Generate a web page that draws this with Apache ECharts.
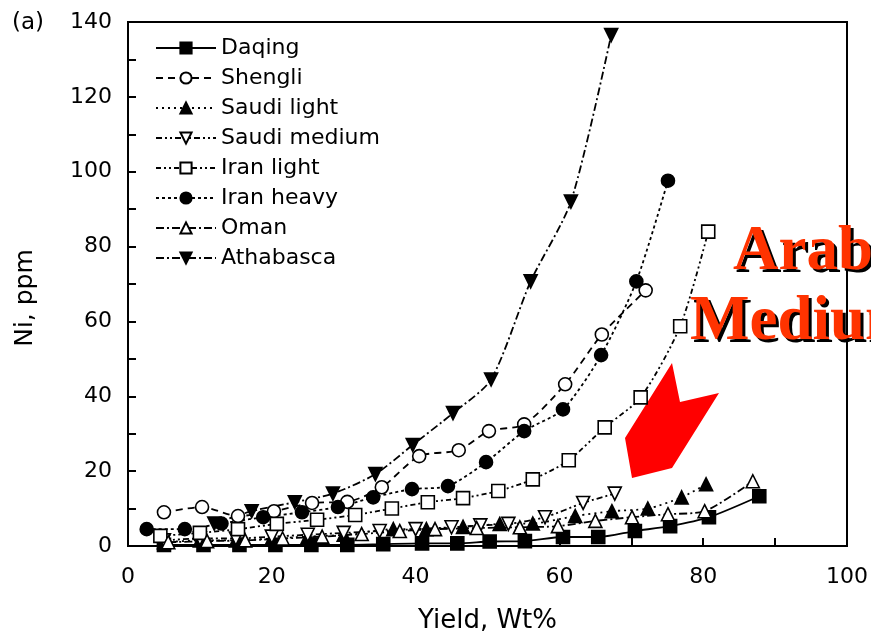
<!DOCTYPE html>
<html>
<head>
<meta charset="utf-8">
<script src="https://cdn.jsdelivr.net/npm/echarts@6/dist/echarts.min.js"></script>
<style>
html,body{margin:0;padding:0;background:#fff;}
#chart{width:871px;height:639px;}
</style>
</head>
<body>
<div id="chart"></div>
<script>
const seriesNames = ['Daqing','Shengli','Saudi light','Saudi medium','Iran light','Iran heavy','Oman','Athabasca'];

const daqing = [[5,0.3],[10.5,0.3],[15.5,0.3],[20.5,0.3],[25.5,0.3],[30.5,0.3],[35.5,0.5],[40.9,0.7],[45.8,0.7],[50.3,1.2],[55.2,1.3],[60.5,2.4],[65.4,2.4],[70.5,4],[75.4,5.3],[80.8,7.7],[87.8,13.3]];
const shengli = [[5,9],[10.3,10.4],[15.3,8],[20.3,9.3],[25.6,11.5],[30.5,11.8],[35.3,15.7],[40.5,24],[46,25.6],[50.2,30.7],[55.1,32.5],[60.8,43.2],[65.9,56.5],[72,68.3]];
const saudiLight = [[5,1],[10,1.5],[15,1.5],[20,2],[25,2.5],[30,3],[36.9,4.5],[41.5,4.5],[46.6,5.1],[51.7,5.9],[56.3,6],[62.2,8],[67.3,9.3],[72.3,10],[77,13],[80.4,16.5]];
const saudiMedium = [[5,1.5],[10,2],[15,2],[20,2.5],[25,3],[30,3.5],[35,4],[40,4.5],[45,5],[49,5.5],[52.9,5.9],[58,7.7],[63.3,11.5],[67.7,14]];
const iranLight = [[4.5,2.7],[10,3.5],[15.3,4.5],[20.7,5.9],[26.3,7],[31.6,8.3],[36.7,10],[41.7,11.7],[46.6,12.8],[51.5,14.7],[56.3,17.8],[61.3,22.9],[66.3,31.7],[71.3,39.7],[76.8,58.7],[80.7,84]];
const iranHeavy = [[2.6,4.5],[7.9,4.5],[13,6],[18.8,7.7],[24.2,9],[29.2,10.4],[34.1,13],[39.5,15.2],[44.5,16],[49.8,22.4],[55.1,30.7],[60.5,36.5],[65.8,51],[70.7,70.7],[75.1,97.6]];
const oman = [[5.6,1],[11,1.3],[16.3,1.5],[21.5,2],[27,2.5],[32.5,3.2],[37.8,4],[42.7,4.5],[48.5,4.8],[54.5,5],[59.8,5.3],[65,6.7],[70.1,7.7],[75.1,8.5],[80.2,9.3],[86.9,17.3]];
const athabasca = [[12,6],[17.2,9.3],[23.2,11.7],[28.5,14],[34.4,19.2],[39.6,27],[45.2,35.5],[50.5,44.5],[56,70.7],[61.6,92],[67.2,136.5]];

const xTicks = [0,20,40,60,80,100];
const yTicks = [0,20,40,60,80,100,120,140];

const FONT = '"DejaVu Sans", sans-serif';
const chart = echarts.init(document.getElementById('chart'));

function mk(name, data, symbol, filled, dash, rotate) {
  return {
    name: name,
    type: 'line',
    data: data,
    smooth: 0.25,
    symbol: symbol,
    symbolSize: 13,
    symbolRotate: rotate || 0,
    showAllSymbol: true,
    clip: false,
    lineStyle: {color: '#000', width: 1.8, type: dash},
    itemStyle: {color: filled ? '#000' : '#fff', borderColor: '#000', borderWidth: 1.6}
  };
}

chart.setOption({
  animation: false,
  backgroundColor: '#fff',
  grid: {left: 128, right: 24, top: 22, bottom: 92, show: true, borderColor: '#000', borderWidth: 2},
  legend: {
    orient: 'vertical', left: 150, top: 32,
    itemWidth: 60, itemHeight: 14, itemGap: 8,
    textStyle: {fontFamily: FONT, fontSize: 22, color: '#000'},
    data: seriesNames
  },
  xAxis: {
    type: 'value', min: 0, max: 100, interval: 10,
    name: 'Yield, Wt%', nameLocation: 'middle', nameGap: 62,
    nameTextStyle: {fontFamily: FONT, fontSize: 26, color: '#000'},
    axisLine: {lineStyle: {color: '#000', width: 2}},
    axisTick: {inside: true, length: 8, lineStyle: {color: '#000', width: 2}},
    axisLabel: {fontFamily: FONT, fontSize: 22, color: '#000', margin: 20,
      formatter: v => xTicks.indexOf(v) >= 0 ? String(v) : ''},
    splitLine: {show: false}
  },
  yAxis: {
    type: 'value', min: 0, max: 140, interval: 10,
    axisLine: {lineStyle: {color: '#000', width: 2}},
    axisTick: {inside: true, length: 8, lineStyle: {color: '#000', width: 2}},
    axisLabel: {fontFamily: FONT, fontSize: 22, color: '#000', margin: 16,
      formatter: v => yTicks.indexOf(v) >= 0 ? String(v) : ''},
    splitLine: {show: false}
  },
  series: [
    mk('Daqing', daqing, 'rect', true, 'solid'),
    mk('Shengli', shengli, 'circle', false, [7, 5]),
    mk('Saudi light', saudiLight, 'triangle', true, [2, 4]),
    mk('Saudi medium', saudiMedium, 'triangle', false, [6, 3, 2, 3, 2, 3], 180),
    mk('Iran light', iranLight, 'rect', false, [5, 3, 2, 3, 2, 3]),
    mk('Iran heavy', iranHeavy, 'circle', true, [3, 3]),
    mk('Oman', oman, 'triangle', false, [8, 3, 2, 3]),
    mk('Athabasca', athabasca, 'triangle', true, [8, 3, 2, 3], 180)
  ],
  graphic: [
    {type: 'text', left: 12, top: 12, style: {text: '(a)', font: '23px "DejaVu Sans"', fill: '#000'}},
    {type: 'text', x: 25, y: 298, rotation: Math.PI / 2, style: {text: 'Ni, ppm', font: '25px "DejaVu Sans"', fill: '#000', textAlign: 'center', textVerticalAlign: 'middle'}},
    {type: 'polygon', shape: {points: [[672,363],[680,402],[719,393],[672,468],[632,478],[625,438]]}, style: {fill: '#ff0000'}},
    {type: 'text', x: 733, y: 284, style: {text: 'Arab', font: 'bold 63px "Liberation Serif"', fill: '#ff3300', textVerticalAlign: 'bottom', textAlign: 'left', textShadowColor: '#000', textShadowOffsetX: 3, textShadowOffsetY: 3, textShadowBlur: 0.01}},
    {type: 'text', x: 690, y: 354, style: {text: 'Medium', font: 'bold 63px "Liberation Serif"', fill: '#ff3300', textVerticalAlign: 'bottom', textAlign: 'left', textShadowColor: '#000', textShadowOffsetX: 3, textShadowOffsetY: 3, textShadowBlur: 0.01}}
  ]
});
</script>
</body>
</html>
